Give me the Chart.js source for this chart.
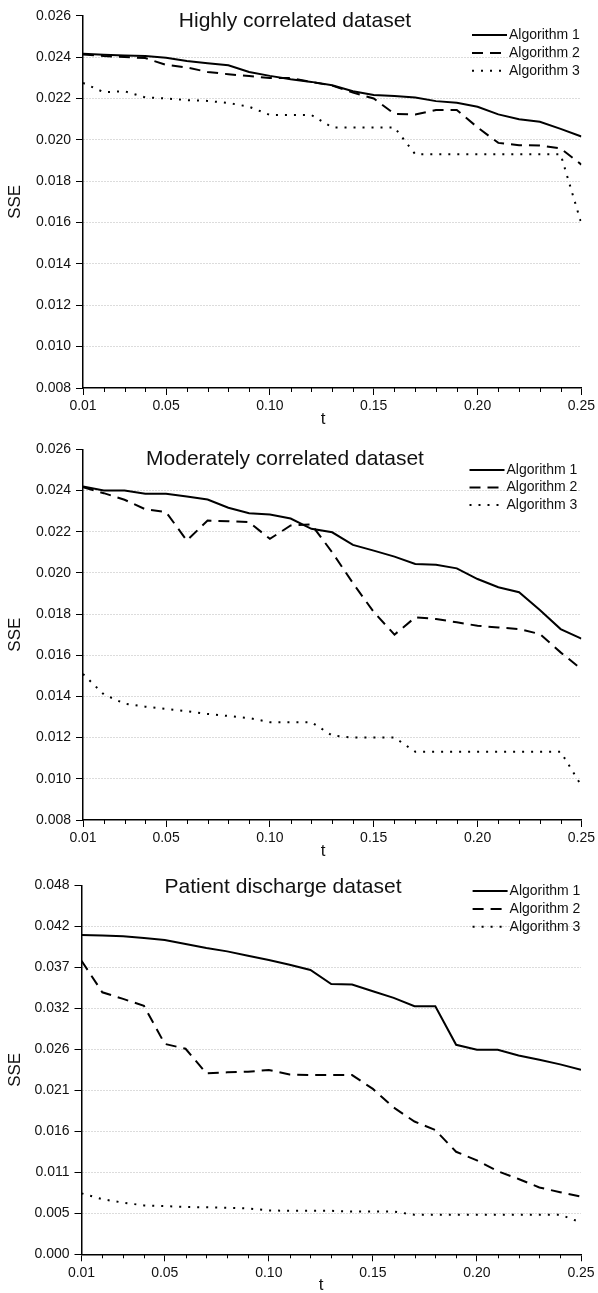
<!DOCTYPE html>
<html>
<head>
<meta charset="utf-8">
<script src="https://cdn.jsdelivr.net/npm/chart.js@4.4.1/dist/chart.umd.min.js"></script>
<style>
  body { margin: 0; background: #fff; }
  canvas { display: block; }
</style>
</head>
<body>
<canvas id="chartHigh" width="598" height="432"></canvas>
<canvas id="chartMod" width="598" height="432"></canvas>
<canvas id="chartPatient" width="598" height="429"></canvas>
<script>
// x values (t) and labelled x ticks
const tValues = [0.01, 0.02, 0.03, 0.04, 0.05, 0.06, 0.07, 0.08, 0.09, 0.10, 0.11, 0.12, 0.13,
                 0.14, 0.15, 0.16, 0.17, 0.18, 0.19, 0.20, 0.21, 0.22, 0.23, 0.24, 0.25];
const xTickValues = [0.01, 0.05, 0.10, 0.15, 0.20, 0.25];
const algNames = ['Algorithm 1', 'Algorithm 2', 'Algorithm 3'];

// Highly correlated dataset
const highAlg1 = [0.02416, 0.02411, 0.02408, 0.02405, 0.02397, 0.02381, 0.02370, 0.02360, 0.02328, 0.02309, 0.02293, 0.02280, 0.02264,
                  0.02235, 0.02217, 0.02212, 0.02204, 0.02187, 0.02179, 0.02160, 0.02123, 0.02099, 0.02087, 0.02053, 0.02016];
const highAlg2 = [0.02413, 0.02405, 0.02400, 0.02395, 0.02362, 0.02350, 0.02328, 0.02317, 0.02308, 0.02299, 0.02299, 0.02280, 0.02262,
                  0.02228, 0.02200, 0.02125, 0.02122, 0.02144, 0.02144, 0.02060, 0.01985, 0.01974, 0.01972, 0.01958, 0.01880];
const highAlg3 = [0.02275, 0.02230, 0.02235, 0.02205, 0.02200, 0.02192, 0.02188, 0.02178, 0.02160, 0.02120, 0.02120, 0.02120, 0.02060,
                  0.02060, 0.02060, 0.02060, 0.01930, 0.01930, 0.01930, 0.01930, 0.01930, 0.01930, 0.01930, 0.01930, 0.01595];

// Moderately correlated dataset
const modAlg1 = [0.02419, 0.02400, 0.02400, 0.02384, 0.02384, 0.02371, 0.02356, 0.02316, 0.02290, 0.02283, 0.02264, 0.02214, 0.02197,
                 0.02136, 0.02108, 0.02079, 0.02043, 0.02039, 0.02022, 0.01970, 0.01930, 0.01906, 0.01820, 0.01727, 0.01681];
const modAlg2 = [0.02416, 0.02387, 0.02355, 0.02309, 0.02295, 0.02157, 0.02254, 0.02251, 0.02246, 0.02165, 0.02230, 0.02235, 0.02100,
                 0.01950, 0.01810, 0.01700, 0.01784, 0.01776, 0.01760, 0.01743, 0.01735, 0.01727, 0.01703, 0.01614, 0.01533];
const modAlg3 = [0.01509, 0.01410, 0.01365, 0.01350, 0.01339, 0.01328, 0.01315, 0.01305, 0.01295, 0.01275, 0.01275, 0.01275, 0.01210,
                 0.01200, 0.01200, 0.01200, 0.01132, 0.01132, 0.01132, 0.01132, 0.01132, 0.01132, 0.01132, 0.01132, 0.00967];

// Patient discharge dataset
const patAlg1 = [0.04111, 0.04105, 0.04095, 0.04072, 0.04048, 0.03997, 0.03944, 0.03901, 0.03845, 0.03790, 0.03730, 0.03661, 0.03481,
                 0.03473, 0.03387, 0.03302, 0.03195, 0.03195, 0.02698, 0.02634, 0.02634, 0.02561, 0.02505, 0.02446, 0.02377];
const patAlg2 = [0.03781, 0.03374, 0.03289, 0.03200, 0.02710, 0.02647, 0.02330, 0.02343, 0.02351, 0.02373, 0.02317, 0.02308, 0.02308,
                 0.02308, 0.02130, 0.01890, 0.01710, 0.01600, 0.01320, 0.01210, 0.01070, 0.00970, 0.00860, 0.00800, 0.00742];
const patAlg3 = [0.00785, 0.00710, 0.00665, 0.00630, 0.00620, 0.00610, 0.00605, 0.00600, 0.00590, 0.00565, 0.00560, 0.00560, 0.00560,
                 0.00550, 0.00550, 0.00550, 0.00510, 0.00510, 0.00510, 0.00510, 0.00510, 0.00510, 0.00510, 0.00510, 0.00410];

// y ticks
const yTicksCorr = [0.008, 0.010, 0.012, 0.014, 0.016, 0.018, 0.020, 0.022, 0.024, 0.026];
const yLabelsCorr = ['0.008', '0.010', '0.012', '0.014', '0.016', '0.018', '0.020', '0.022', '0.024', '0.026'];
const yTicksPatient = [0, 0.00528, 0.01056, 0.01584, 0.02112, 0.0264, 0.03168, 0.03696, 0.04224, 0.04752];
const yLabelsPatient = ['0.000', '0.005', '0.011', '0.016', '0.021', '0.026', '0.032', '0.037', '0.042', '0.048'];

const FONT = "'Liberation Sans', Arial, sans-serif";
const TEXT = '#111';
const dashes = [[], [11, 7], [2, 7]];

const decorPlugin = {
    id: 'decor',
    afterDraw(chart, args, o) {
        const ctx = chart.ctx;
        const area = chart.chartArea;
        const xs = chart.scales.x;
        ctx.save();
        // minor ticks on x axis
        ctx.strokeStyle = '#000';
        ctx.lineWidth = 1;
        tValues.forEach(t => {
            if (xTickValues.some(v => Math.abs(v - t) < 1e-9)) return;
            const px = Math.round(xs.getPixelForValue(t)) + 0.5;
            ctx.beginPath();
            ctx.moveTo(px, area.bottom);
            ctx.lineTo(px, area.bottom + 4);
            ctx.stroke();
        });
        // title
        ctx.fillStyle = TEXT;
        ctx.font = '21px ' + FONT;
        ctx.textAlign = 'center';
        ctx.textBaseline = 'alphabetic';
        ctx.fillText(o.title, o.titleX, o.titleY);
        // x axis label
        ctx.font = '17px ' + FONT;
        ctx.textBaseline = 'middle';
        ctx.fillText('t', o.tX, o.tY);
        // legend
        ctx.font = '14px ' + FONT;
        ctx.textAlign = 'left';
        chart.data.datasets.forEach((ds, i) => {
            const y = o.legendY + i * o.legendGap;
            ctx.strokeStyle = '#000';
            ctx.lineWidth = 2;
            ctx.setLineDash(ds.borderDash || []);
            ctx.beginPath();
            ctx.moveTo(o.legendX, y);
            ctx.lineTo(o.legendX + 35, y);
            ctx.stroke();
            ctx.setLineDash([]);
            ctx.fillText(ds.label, o.legendX + 37, y);
        });
        ctx.restore();
    }
};

function makeChart(id, c) {
    const canvas = document.getElementById(id);
    const datasets = c.series.map((s, i) => ({
        label: algNames[i],
        data: tValues.map((t, j) => ({ x: t, y: s[j] })),
        borderColor: '#000',
        borderWidth: 2,
        borderDash: dashes[i],
        borderCapStyle: 'butt',
        pointRadius: 0,
        tension: 0,
        fill: false
    }));
    new Chart(canvas.getContext('2d'), {
        type: 'line',
        data: { datasets: datasets },
        options: {
            responsive: false,
            animation: false,
            devicePixelRatio: 1,
            layout: { padding: { top: c.plotTop, right: 598 - c.plotRight, left: 0, bottom: 0 } },
            plugins: {
                legend: { display: false },
                tooltip: { enabled: false },
                decor: c.decor
            },
            scales: {
                x: {
                    type: 'linear',
                    min: 0.01,
                    max: 0.25,
                    afterBuildTicks: s => { s.ticks = xTickValues.map(v => ({ value: v })); },
                    afterFit: s => { s.height = canvas.height - c.plotBottom; },
                    grid: { drawOnChartArea: false, drawTicks: true, tickLength: 7, tickColor: '#000', tickWidth: 1 },
                    border: { color: '#000', width: 1.5 },
                    ticks: {
                        autoSkip: false, maxRotation: 0, padding: 3, color: TEXT,
                        font: { family: FONT, size: 14 },
                        callback: v => v.toFixed(2)
                    }
                },
                y: {
                    type: 'linear',
                    min: c.yTicks[0],
                    max: c.yTicks[c.yTicks.length - 1],
                    afterBuildTicks: s => { s.ticks = c.yTicks.map(v => ({ value: v })); },
                    afterFit: s => { s.width = c.plotLeft; },
                    grid: {
                        color: ctx => (ctx.index === 0 || ctx.index === c.yTicks.length - 1) ? 'rgba(0,0,0,0)' : '#b9b9b9',
                        lineWidth: 1, tickLength: 7, tickColor: '#000', tickWidth: 1, tickBorderDash: []
                    },
                    border: { color: '#000', width: 1.5, dash: [1, 2] },
                    ticks: {
                        padding: 5, color: TEXT,
                        font: { family: FONT, size: 14 },
                        callback: (v, i) => c.yLabels[i]
                    },
                    title: {
                        display: true, text: 'SSE', color: TEXT,
                        font: { family: FONT, size: 17, lineHeight: 1.2 },
                        padding: { top: 5.6, bottom: 0 }
                    }
                }
            }
        },
        plugins: [decorPlugin]
    });
}

makeChart('chartHigh', {
    series: [highAlg1, highAlg2, highAlg3],
    yTicks: yTicksCorr, yLabels: yLabelsCorr,
    plotLeft: 83, plotRight: 583, plotTop: 15.7, plotBottom: 388,
    decor: { title: 'Highly correlated dataset', titleX: 295, titleY: 27.3,
             tX: 323, tY: 419, legendX: 472, legendY: 35, legendGap: 17.9 }
});
makeChart('chartMod', {
    series: [modAlg1, modAlg2, modAlg3],
    yTicks: yTicksCorr, yLabels: yLabelsCorr,
    plotLeft: 83, plotRight: 583, plotTop: 17.3, plotBottom: 388,
    decor: { title: 'Moderately correlated dataset', titleX: 285, titleY: 33,
             tX: 323, tY: 419, legendX: 469.5, legendY: 38, legendGap: 17.5 }
});
makeChart('chartPatient', {
    series: [patAlg1, patAlg2, patAlg3],
    yTicks: yTicksPatient, yLabels: yLabelsPatient,
    plotLeft: 81.5, plotRight: 581, plotTop: 21.3, plotBottom: 390.3,
    decor: { title: 'Patient discharge dataset', titleX: 283, titleY: 29.3,
             tX: 321, tY: 421, legendX: 472.6, legendY: 27, legendGap: 17.9 }
});
</script>
</body>
</html>
